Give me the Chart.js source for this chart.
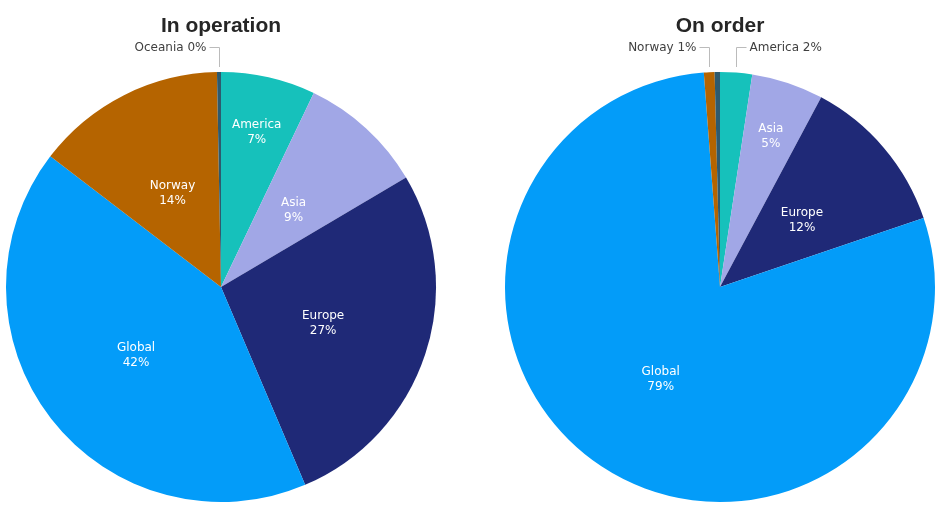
<!DOCTYPE html>
<html>
<head>
<meta charset="utf-8">
<script src="https://cdn.jsdelivr.net/npm/chart.js@4"></script>
<style>
    body { margin: 0; background: #fff; }
    .wrap { position: absolute; top: 0; width: 442px; height: 519px; }
</style>
</head>
<body>
<div class="wrap" style="left:0"><canvas id="opChart"></canvas></div>
<div class="wrap" style="left:499px"><canvas id="orderChart"></canvas></div>
<script>
// =========================
// DATA
// =========================

const regions = ["America", "Asia", "Europe", "Global", "Norway", "Oceania"];

const inOperation = [7.1, 9.4, 27.1, 41.8, 14.3, 0.3];
const onOrder = [2.4, 5.4, 12.0, 79.0, 0.8, 0.4];

const regionColors = ["#16c1bb", "#a1a7e6", "#1f2977", "#039cf9", "#b56400", "#2e5a6e"];

// =========================
// LABEL PLUGIN
// =========================

const pieLabels = {
    id: "pieLabels",
    afterDatasetsDraw(chart, args, opts) {
        const ctx = chart.ctx;
        const meta = chart.getDatasetMeta(0);
        const values = chart.data.datasets[0].data;
        const total = values.reduce((a, b) => a + b, 0);
        const hidden = opts.hide || [];

        ctx.save();
        ctx.textBaseline = "middle";

        // title
        ctx.fillStyle = "#262626";
        ctx.font = "bold 21px 'Liberation Sans', Arial";
        ctx.textAlign = "center";
        ctx.fillText(opts.title, chart.width / 2, 26);

        ctx.font = "12px 'DejaVu Sans'";

        meta.data.forEach((arc, i) => {
            const name = chart.data.labels[i];
            if (hidden.includes(name)) return;

            const pct = values[i] / total * 100;
            const mid = (arc.startAngle + arc.endAngle) / 2;
            const txtPct = Math.round(pct) + "%";

            if (pct >= 3) {
                const f = pct < 8 ? 0.75 : 0.5;
                const x = arc.x + Math.cos(mid) * arc.outerRadius * f;
                const y = arc.y + Math.sin(mid) * arc.outerRadius * f;
                ctx.fillStyle = "#ffffff";
                ctx.textAlign = "center";
                ctx.fillText(name, x, y - 5);
                ctx.fillText(txtPct, x, y + 10);
            } else {
                const lx = Math.round(arc.x + Math.cos(mid) * arc.outerRadius) + 0.5;
                const y0 = arc.y - arc.outerRadius - 5;
                const y1 = 47.5;
                const side = lx < arc.x ? -1 : 1;
                ctx.strokeStyle = "#bbbbbb";
                ctx.lineWidth = 1;
                ctx.beginPath();
                ctx.moveTo(lx, y0);
                ctx.lineTo(lx, y1);
                ctx.lineTo(lx + side * 10, y1);
                ctx.stroke();
                ctx.fillStyle = "#404040";
                ctx.textAlign = side < 0 ? "right" : "left";
                ctx.fillText(name + " " + txtPct, lx + side * 13, y1);
            }
        });

        ctx.restore();
    }
};

// =========================
// CHARTS
// =========================

function makePie(id, title, values, hide) {
    return new Chart(
        document.getElementById(id),
        {
            type: "pie",
            data: {
                labels: regions,
                datasets: [{
                    data: values,
                    backgroundColor: regionColors,
                    borderWidth: 0
                }]
            },
            options: {
                responsive: true,
                maintainAspectRatio: false,
                animation: false,
                layout: {
                    padding: { top: 72, bottom: 17, left: 6, right: 6 }
                },
                plugins: {
                    legend: { display: false },
                    tooltip: { enabled: false },
                    pieLabels: { title: title, hide: hide }
                }
            },
            plugins: [pieLabels]
        }
    );
}

makePie("opChart", "In operation", inOperation, []);
makePie("orderChart", "On order", onOrder, ["Oceania"]);
</script>
</body>
</html>
